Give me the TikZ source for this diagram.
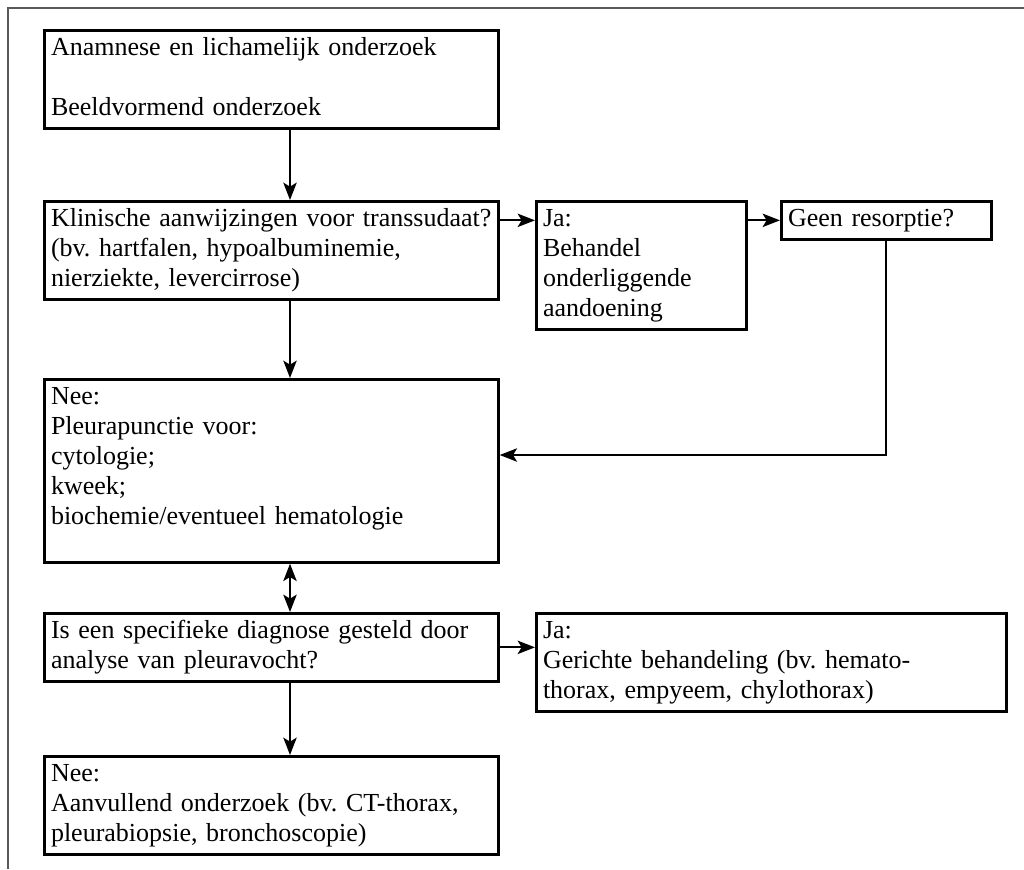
\documentclass[tikz,border=0pt]{standalone}
\usepackage{fontspec}
\setmainfont{Liberation Serif}
\usetikzlibrary{arrows.meta}
\frenchspacing

\tikzset{
    stap/.style={draw, line width=2pt, anchor=north west, align=left,
        inner xsep=5pt, inner ysep=3pt,
        font=\fontsize{19.5}{22.5}\selectfont,
        execute at begin node=\strut, execute at end node=\strut},
    breed/.style={stap, text width=330.5pt},
    smal/.style={stap, text width=147.5pt},
    pijl/.style={line width=1.7pt, -{Stealth[length=13pt,width=10pt,inset=3pt]}},
    tweepijl/.style={line width=1.7pt, {Stealth[length=13pt,width=10pt,inset=3pt]}-{Stealth[length=13pt,width=10pt,inset=3pt]}},
    kader/.style={line width=1pt, black!65}
}

\begin{document}
\begin{tikzpicture}[x=0.75pt,y=0.75pt,yscale=-1,xscale=1]
        \useasboundingbox (0,0) rectangle (1024,869);
        \draw[kader] (8,869) -- (8,8) -- (1024,8);
        % stappen
        \node[breed] (anam) at (43,29) {Anamnese en lichamelijk onderzoek\\[22.5pt]Beeldvormend onderzoek};
        \node[breed] (klin) at (43,200) {Klinische aanwijzingen voor transsudaat?\\(bv. hartfalen, hypoalbuminemie,\\nierziekte, levercirrose)};
        \node[smal] (ja1) at (535,200) {Ja:\\Behandel\\onderliggende\\aandoening};
        \node[smal] (geen) at (780,200) {Geen resorptie?};
        \node[breed, text depth=115.5pt] (nee) at (43,378) {Nee:\\Pleurapunctie voor:\\cytologie;\\kweek;\\biochemie/eventueel hematologie};
        \node[breed] (isd) at (43,612) {Is een specifieke diagnose gesteld door\\analyse van pleuravocht?};
        \node[stap, text width=342.5pt] (ja2) at (535,612) {Ja:\\Gerichte behandeling (bv. hemato-\\thorax, empyeem, chylothorax)};
        \node[breed] (nee2) at (43,755) {Nee:\\Aanvullend onderzoek (bv. CT-thorax,\\pleurabiopsie, bronchoscopie)};
        % verbindingen
        \coordinate (as) at (290,0);
        \coordinate (terug) at (0,455);
        \draw[pijl] (anam.south -| as) -- (klin.north -| as);
        \draw[pijl] (klin.east |- geen) -- (ja1.west |- geen);
        \draw[pijl] (ja1.east |- geen) -- (geen.west);
        \draw[pijl] (geen.south) |- (nee.east |- terug);
        \draw[pijl] (klin.south -| as) -- (nee.north -| as);
        \draw[tweepijl] (nee.south -| as) -- (isd.north -| as);
        \draw[pijl] (isd.east) -- (isd.east -| ja2.west);
        \draw[pijl] (isd.south -| as) -- (nee2.north -| as);
\end{tikzpicture}
\end{document}
